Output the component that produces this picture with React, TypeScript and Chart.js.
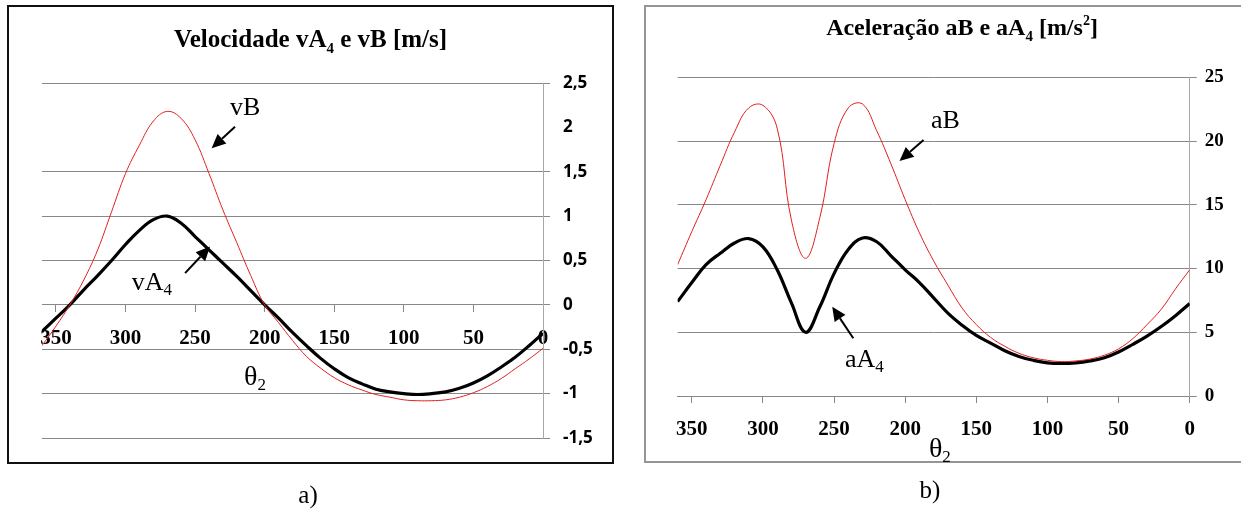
import React, { useEffect, useRef } from 'react';
import { Chart, registerables } from 'chart.js';

Chart.register(...registerables);

// ---------- data ----------
const THETA = [0, 10, 20, 30, 40, 50, 60, 70, 80, 90, 100, 110, 120, 130, 140, 150, 160, 170, 180,
  190, 200, 210, 220, 230, 240, 250, 260, 270, 280, 290, 300, 310, 320, 330, 340, 350, 360];

const VB = [-0.49, -0.61, -0.72, -0.83, -0.92, -0.99, -1.04, -1.07, -1.08, -1.08, -1.07, -1.04, -1.01,
  -0.96, -0.9, -0.82, -0.71, -0.58, -0.4, -0.2, 0.0, 0.33, 0.7, 1.07, 1.48, 1.86, 2.1, 2.18, 2.07,
  1.8, 1.48, 1.05, 0.62, 0.28, 0.0, -0.24, -0.46];

const VA4 = [-0.32, -0.46, -0.59, -0.7, -0.8, -0.88, -0.94, -0.98, -1.0, -1.01, -1.0, -0.98, -0.95,
  -0.89, -0.82, -0.72, -0.6, -0.46, -0.31, -0.15, 0.0, 0.16, 0.32, 0.47, 0.62, 0.77, 0.92, 1.0, 0.96,
  0.84, 0.68, 0.5, 0.33, 0.17, 0.0, -0.15, -0.3];

const AB = [9.9, 8.4, 6.8, 5.6, 4.5, 3.7, 3.2, 2.9, 2.75, 2.7, 2.8, 3.0, 3.35, 3.9, 4.6, 5.6, 6.9, 8.7,
  10.6, 12.8, 15.4, 18.2, 20.8, 22.9, 22.6, 19.8, 14.0, 10.8, 13.8, 21.0, 22.8, 22.6, 20.7, 18.1, 15.4,
  12.9, 10.3];

const AA4 = [7.25, 6.3, 5.45, 4.7, 4.05, 3.45, 3.0, 2.75, 2.6, 2.55, 2.6, 2.8, 3.1, 3.55, 4.15, 4.75,
  5.55, 6.5, 7.7, 8.9, 9.9, 11.0, 12.1, 12.4, 11.5, 9.6, 7.0, 5.0, 7.3, 9.9, 11.7, 12.35, 12.0, 11.2,
  10.3, 8.9, 7.4];

// axis ranges / tick steps
const THETA_RANGE = [0, 360];
const THETA_STEP = 50;
const V_RANGE = [-1.5, 2.5];
const V_STEP = 0.5;
const V_HIDDEN_GRID = [2];
const A_RANGE = [0, 25];
const A_STEP = 5;

// annotation anchors in data units [theta, value]
const VB_LABEL = [224.9, 2.14];
const VB_ARROW = [221.3, 2.006, 238.1, 1.766];
const VA4_LABEL = [295.5, 0.168];
const VA4_ARROW = [257.2, 0.357, 239.3, 0.657];
const THETA_LABEL_A = [214.8, -0.9];

const AB_LABEL = [181.9, 21.0];
const AB_ARROW = [187.1, 20.08, 204.0, 18.43];
const AA4_LABEL = [242.3, 2.27];
const AA4_ARROW = [236.5, 4.53, 251.3, 7.0];
const THETA_LABEL_B = [183.3, -4.75];

// ---------- styling ----------
const SERIF = "'Liberation Serif', 'Times New Roman', serif";
const SANS = "'Open Sans', 'Liberation Sans', sans-serif";
const GRID = '#888888';
const RED = '#e02020';

type Part = { t: string; size: number; bold?: boolean; dy?: number };

function drawRich(ctx: CanvasRenderingContext2D, parts: Part[], x: number, y: number, align: 'left' | 'center') {
  ctx.save();
  ctx.fillStyle = '#000';
  ctx.textBaseline = 'alphabetic';
  ctx.textAlign = 'left';
  const fontOf = (p: Part) => `${p.bold ? 'bold ' : ''}${p.size}px ${SERIF}`;
  const widths = parts.map((p) => {
    ctx.font = fontOf(p);
    return ctx.measureText(p.t).width;
  });
  const total = widths.reduce((a, b) => a + b, 0);
  let cx = align === 'center' ? x - total / 2 : x;
  parts.forEach((p, i) => {
    ctx.font = fontOf(p);
    ctx.fillText(p.t, cx, y + (p.dy || 0));
    cx += widths[i];
  });
  ctx.restore();
}

function drawArrow(ctx: CanvasRenderingContext2D, x1: number, y1: number, x2: number, y2: number) {
  const ang = Math.atan2(y2 - y1, x2 - x1);
  const head = 14;
  const hw = 6.5;
  const bx = x2 - head * Math.cos(ang);
  const by = y2 - head * Math.sin(ang);
  ctx.save();
  ctx.strokeStyle = '#000';
  ctx.fillStyle = '#000';
  ctx.lineWidth = 2;
  ctx.beginPath();
  ctx.moveTo(x1, y1);
  ctx.lineTo(bx, by);
  ctx.stroke();
  ctx.beginPath();
  ctx.moveTo(x2, y2);
  ctx.lineTo(bx + hw * Math.sin(ang), by - hw * Math.cos(ang));
  ctx.lineTo(bx - hw * Math.sin(ang), by + hw * Math.cos(ang));
  ctx.closePath();
  ctx.fill();
  ctx.restore();
}

type Note = { parts: Part[]; at: number[] };
type Deco = {
  frame: { x: number; y: number; w: number; h: number; color: string; width: number };
  title: { parts: Part[]; cx: number; baseline: number };
  caption: { parts: Part[]; cx: number; baseline: number };
  notes: Note[];
  arrows: number[][];
};

function makeDeco(cfg: Deco) {
  return {
    id: 'deco',
    beforeDraw(chart: any) {
      const ctx = chart.ctx as CanvasRenderingContext2D;
      const f = cfg.frame;
      ctx.save();
      ctx.strokeStyle = f.color;
      ctx.lineWidth = f.width;
      ctx.strokeRect(f.x, f.y, f.w, f.h);
      ctx.restore();
    },
    afterDraw(chart: any) {
      const ctx = chart.ctx as CanvasRenderingContext2D;
      const xs = chart.scales.x;
      const ys = chart.scales.y;
      drawRich(ctx, cfg.title.parts, cfg.title.cx, cfg.title.baseline, 'center');
      drawRich(ctx, cfg.caption.parts, cfg.caption.cx, cfg.caption.baseline, 'center');
      for (const a of cfg.arrows) {
        drawArrow(ctx, xs.getPixelForValue(a[0]), ys.getPixelForValue(a[1]), xs.getPixelForValue(a[2]), ys.getPixelForValue(a[3]));
      }
      for (const n of cfg.notes) {
        drawRich(ctx, n.parts, xs.getPixelForValue(n.at[0]), ys.getPixelForValue(n.at[1]), 'left');
      }
    },
  };
}

const toPoints = (ys: number[]) => THETA.map((t, i) => ({ x: t, y: ys[i] }));

const NOTE = 26;
const SUB = 17;

function velocityConfig(): any {
  return {
    type: 'line',
    data: {
      datasets: [
        { label: 'vB', data: toPoints(VB), borderColor: RED, borderWidth: 1, pointRadius: 0, tension: 0.4, fill: false },
        { label: 'vA4', data: toPoints(VA4), borderColor: '#000', borderWidth: 3.2, pointRadius: 0, tension: 0.4, fill: false },
      ],
    },
    options: {
      responsive: false,
      animation: false,
      events: [],
      layout: { padding: { left: 42, top: 83, right: 27, bottom: 72 } },
      plugins: { legend: { display: false }, title: { display: false }, tooltip: { enabled: false } },
      scales: {
        x: {
          type: 'linear', min: THETA_RANGE[0], max: THETA_RANGE[1], reverse: true, position: { y: 0 },
          ticks: { stepSize: THETA_STEP, includeBounds: false, autoSkip: false, maxRotation: 0, color: '#000', padding: 14,
            font: { family: SERIF, size: 21, weight: 'bold' } },
          grid: { drawOnChartArea: false, drawTicks: true, tickLength: 7, color: GRID },
          border: { display: true, color: GRID },
        },
        y: {
          type: 'linear', position: 'right', min: V_RANGE[0], max: V_RANGE[1],
          afterFit: (s: any) => { s.width = 60; },
          ticks: { stepSize: V_STEP, color: '#000', padding: 13,
            callback: (v: any) => String(v).replace('.', ','),
            font: { family: SANS, size: 17, weight: 'bold' } },
          grid: { tickLength: 7, color: (c: any) => (c.tick && V_HIDDEN_GRID.includes(c.tick.value) ? 'rgba(0,0,0,0)' : GRID) },
          border: { display: true, color: '#a8a8a8' },
        },
      },
    },
    plugins: [makeDeco({
      frame: { x: 8, y: 6, w: 605, h: 457, color: '#111', width: 2 },
      title: { cx: 310.5, baseline: 47, parts: [
        { t: 'Velocidade vA', size: 25, bold: true },
        { t: '4', size: 15, bold: true, dy: 6 },
        { t: ' e vB [m/s]', size: 25, bold: true },
      ] },
      caption: { cx: 308, baseline: 503, parts: [{ t: 'a)', size: 25 }] },
      notes: [
        { at: VB_LABEL, parts: [{ t: 'vB', size: NOTE }] },
        { at: VA4_LABEL, parts: [{ t: 'vA', size: NOTE }, { t: '4', size: SUB, dy: 5 }] },
        { at: THETA_LABEL_A, parts: [{ t: 'θ', size: 28 }, { t: '2', size: SUB, dy: 5 }] },
      ],
      arrows: [VB_ARROW, VA4_ARROW],
    })],
  };
}

function accelConfig(): any {
  return {
    type: 'line',
    data: {
      datasets: [
        { label: 'aB', data: toPoints(AB), borderColor: RED, borderWidth: 1, pointRadius: 0, tension: 0.4, fill: false },
        { label: 'aA4', data: toPoints(AA4), borderColor: '#000', borderWidth: 3.2, pointRadius: 0, tension: 0.4, fill: false },
      ],
    },
    options: {
      responsive: false,
      animation: false,
      events: [],
      layout: { padding: { left: 47.6, top: 77.3, right: 6.3, bottom: 64 } },
      plugins: { legend: { display: false }, title: { display: false }, tooltip: { enabled: false } },
      scales: {
        x: {
          type: 'linear', min: THETA_RANGE[0], max: THETA_RANGE[1], reverse: true, position: 'bottom',
          afterFit: (s: any) => { s.height = 50; },
          ticks: { stepSize: THETA_STEP, includeBounds: false, autoSkip: false, maxRotation: 0, color: '#000', padding: 14,
            font: { family: SERIF, size: 21, weight: 'bold' } },
          grid: { drawOnChartArea: false, drawTicks: true, tickLength: 7, color: GRID },
          border: { display: true, color: GRID },
        },
        y: {
          type: 'linear', position: 'right', min: A_RANGE[0], max: A_RANGE[1],
          afterFit: (s: any) => { s.width = 45; },
          ticks: { stepSize: A_STEP, color: '#000', padding: 8,
            font: { family: SERIF, size: 19, weight: 'bold' } },
          grid: { tickLength: 7, color: GRID },
          border: { display: true, color: '#a8a8a8' },
        },
      },
    },
    plugins: [makeDeco({
      frame: { x: 15, y: 6, w: 640, h: 456, color: '#959595', width: 2 },
      title: { cx: 332, baseline: 35, parts: [
        { t: 'Aceleração aB e aA', size: 24, bold: true },
        { t: '4', size: 15, bold: true, dy: 6 },
        { t: ' [m/s', size: 24, bold: true },
        { t: '2', size: 14, bold: true, dy: -10 },
        { t: ']', size: 24, bold: true },
      ] },
      caption: { cx: 300, baseline: 498, parts: [{ t: 'b)', size: 25 }] },
      notes: [
        { at: AB_LABEL, parts: [{ t: 'aB', size: NOTE }] },
        { at: AA4_LABEL, parts: [{ t: 'aA', size: NOTE }, { t: '4', size: SUB, dy: 5 }] },
        { at: THETA_LABEL_B, parts: [{ t: 'θ', size: 28 }, { t: '2', size: SUB, dy: 5 }] },
      ],
      arrows: [AB_ARROW, AA4_ARROW],
    })],
  };
}

function ChartCanvas({ make, left, width }: { make: () => any; left: number; width: number }) {
  const ref = useRef<HTMLCanvasElement>(null);
  useEffect(() => {
    const chart = new Chart(ref.current as HTMLCanvasElement, make());
    return () => chart.destroy();
  }, []);
  return (
    <canvas
      ref={ref}
      width={width}
      height={510}
      style={{ position: 'absolute', left, top: 0, width, height: 510 }}
    />
  );
}

export default function App() {
  return (
    <div style={{ position: 'absolute', left: 0, top: 0, width: 1241, height: 510, overflow: 'hidden', background: '#fff' }}>
      <ChartCanvas make={velocityConfig} left={0} width={630} />
      <ChartCanvas make={accelConfig} left={630} width={611} />
    </div>
  );
}
